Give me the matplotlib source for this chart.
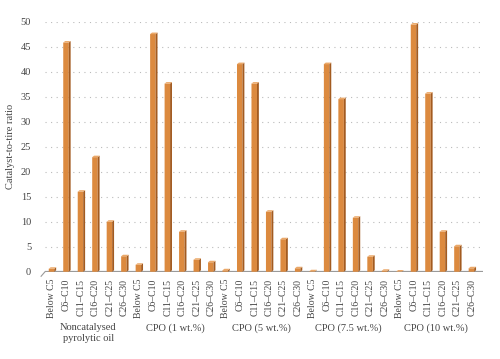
import numpy as np
import matplotlib
matplotlib.use("Agg")
import matplotlib.pyplot as plt
from matplotlib.patches import Polygon

plt.rcParams["font.family"] = ["Liberation Serif", "DejaVu Serif"]

fractions = ["Below C5", "C6–C10", "C11–C15", "C16–C20", "C21–C25", "C26–C30"]
groups = ["Noncatalysed\npyrolytic oil", "CPO (1 wt.%)", "CPO (5 wt.%)",
          "CPO (7.5 wt.%)", "CPO (10 wt.%)"]

noncat = [0.6, 45.8, 16.0, 22.9, 10.0, 3.1]
cpo1 = [1.4, 47.5, 37.6, 8.0, 2.4, 1.9]
cpo5 = [0.3, 41.5, 37.6, 12.0, 6.5, 0.7]
cpo75 = [0.1, 41.5, 34.5, 10.8, 3.0, 0.2]
cpo10 = [0.05, 49.4, 35.6, 8.0, 5.1, 0.7]

values = noncat + cpo1 + cpo5 + cpo75 + cpo10
labels = fractions * len(groups)

front = "#DC8A3F"
side = "#A35B20"
top = "#EBA868"
txt = "#444444"

fig = plt.figure(figsize=(5, 3.59), dpi=100)
ax = fig.add_axes([0.09, 0.243, 0.876, 0.697])

x = np.arange(len(values))
w = 0.38
dx, dy = 0.13, 0.3

bars = ax.bar(x - 0.03, values, width=w, color=front, edgecolor="none", zorder=3)
for b in bars:
    b.set_snap(False)
for xi, v in zip(x, values):
    r = xi - 0.03 + w / 2
    l = xi - 0.03 - w / 2
    ax.add_patch(Polygon([(r, 0), (r + dx, dy), (r + dx, v + dy), (r, v)],
                         closed=True, fc=side, ec="none", zorder=3, snap=False))
    ax.add_patch(Polygon([(l, v), (l + dx, v + dy), (r + dx, v + dy), (r, v)],
                         closed=True, fc=top, ec="none", zorder=3, snap=False))

ax.set_xlim(-0.48, 29.77)
ax.set_ylim(0, 50)
ax.set_yticks(np.arange(0, 51, 5))
ax.set_xticks(x)
ax.set_xticklabels(labels, rotation=90, fontsize=7, color=txt)
ax.tick_params(axis="y", labelsize=7.5, colors=txt, length=0, pad=10)
ax.tick_params(axis="x", length=0, pad=5)
for s in ax.spines.values():
    s.set_visible(False)
ax.yaxis.grid(True, linestyle=(0, (1, 4)), color="#BBBBBB", lw=0.8, zorder=0)

# floor line
ax.axhline(0, color="#9A9A9A", lw=1.6, zorder=2)
ax.plot([-0.48, -0.75], [0, -0.9], color="#9A9A9A", lw=0.8, clip_on=False)

ax.set_ylabel("Catalyst-to-tire ratio", fontsize=7.5, color=txt, labelpad=4)

for gi, g in enumerate(groups):
    ax.text(gi * 6 + 2.5, -0.205, g, transform=ax.get_xaxis_transform(),
            ha="center", va="top", fontsize=7.5, color=txt, linespacing=1.3)

fig.savefig("out.png", dpi=100)
